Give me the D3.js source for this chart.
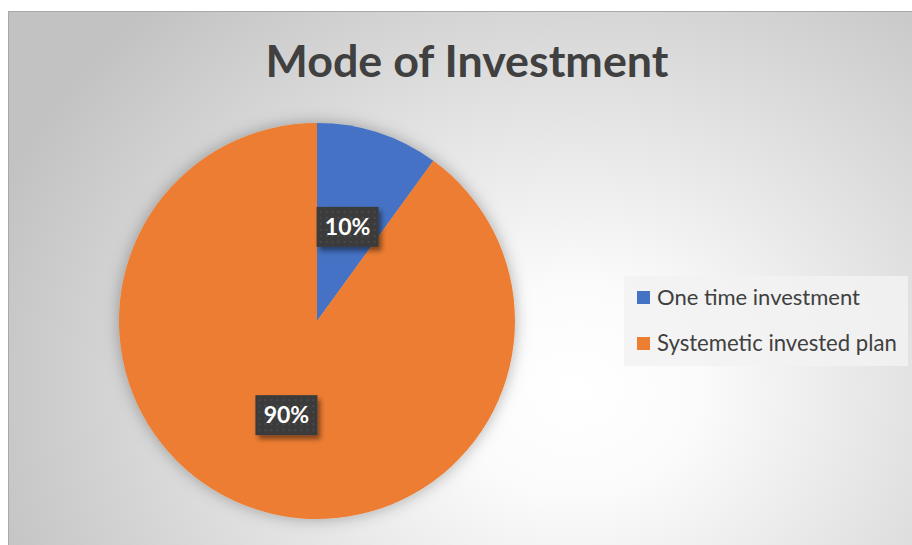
<!DOCTYPE html>
<html>
<head>
<meta charset="utf-8">
<script src="https://cdn.jsdelivr.net/npm/d3@7"></script>
<style>
  html, body { margin: 0; padding: 0; background: #ffffff; }
  svg { display: block; }
</style>
</head>
<body>
<svg id="chart" width="912" height="545"></svg>
<script>
// Chart data
const title = "Mode of Investment";
const categories = ["One time investment", "Systemetic invested plan"];
const shares = [10, 90];
const labels = ["10%", "90%"];
const colors = ["#4472C4", "#ED7D31"];

const W = 912, H = 545;
const svg = d3.select("#chart");
const defs = svg.append("defs");

// Chart-area background: soft radial white-to-grey fill
const bg = defs.append("radialGradient")
  .attr("id", "bgGrad")
  .attr("gradientUnits", "userSpaceOnUse")
  .attr("cx", 575).attr("cy", 390).attr("r", 620)
  .attr("gradientTransform", "translate(575,390) scale(1,0.85) translate(-575,-390)");
bg.append("stop").attr("offset", 0).attr("stop-color", "#ffffff");
bg.append("stop").attr("offset", 0.2).attr("stop-color", "#fbfbfb");
bg.append("stop").attr("offset", 1).attr("stop-color", "#c2c2c2");

// Soft glow shadow around the pie
const glow = defs.append("filter").attr("id", "pieShadow")
  .attr("x", "-20%").attr("y", "-20%").attr("width", "140%").attr("height", "140%");
glow.append("feDropShadow").attr("dx", 0).attr("dy", 0)
  .attr("stdDeviation", 8).attr("flood-color", "#000").attr("flood-opacity", 0.3);

// Drop shadow for the data-label boxes
const lblShadow = defs.append("filter").attr("id", "lblShadow")
  .attr("x", "-30%").attr("y", "-30%").attr("width", "160%").attr("height", "170%");
lblShadow.append("feDropShadow").attr("dx", 3).attr("dy", 4)
  .attr("stdDeviation", 2.5).attr("flood-color", "#000").attr("flood-opacity", 0.45);

// Dotted texture for the label boxes
const pat = defs.append("pattern").attr("id", "dots")
  .attr("patternUnits", "userSpaceOnUse").attr("width", 6).attr("height", 6);
pat.append("rect").attr("width", 6).attr("height", 6).attr("fill", "#3b3b3b");
pat.append("rect").attr("x", 2).attr("y", 2).attr("width", 2).attr("height", 2).attr("fill", "#4a4a4a");

// Frame of the chart area
const frame = { x: 8.5, y: 11.5 };
svg.append("rect")
  .attr("x", frame.x).attr("y", frame.y)
  .attr("width", W + 10).attr("height", H + 10)
  .attr("fill", "url(#bgGrad)")
  .attr("stroke", "#a9a9a9").attr("stroke-width", 1);

// Title
const fontFamily = "Lato, 'Open Sans', 'DejaVu Sans', sans-serif";
const titleText = svg.append("text")
  .attr("x", 467).attr("y", 77)
  .attr("text-anchor", "middle")
  .attr("font-family", fontFamily)
  .attr("font-weight", 700)
  .attr("font-size", 44)
  .attr("fill", "#404040")
  .text(title);
fitWidth(titleText, 403, 44);

// Pie
const cx = 317, cy = 321, radius = 198;
const pie = d3.pie().sort(null).value(d => d)(shares);
const arc = d3.arc().innerRadius(0).outerRadius(radius);
const labelArc = d3.arc().innerRadius(0).outerRadius(radius); // centroid sits at r/2

const g = svg.append("g").attr("transform", `translate(${cx},${cy})`);
g.append("g").attr("filter", "url(#pieShadow)")
  .selectAll("path")
  .data(pie)
  .join("path")
  .attr("d", arc)
  .attr("fill", (d, i) => colors[i]);

// Data labels
const boxW = 62, boxH = 40;
const lbl = g.selectAll("g.lbl")
  .data(pie)
  .join("g")
  .attr("class", "lbl")
  .attr("transform", d => {
    const [x, y] = labelArc.centroid(d);
    return `translate(${x},${y})`;
  });
lbl.append("rect")
  .attr("x", -boxW / 2).attr("y", -boxH / 2)
  .attr("width", boxW).attr("height", boxH)
  .attr("fill", "url(#dots)")
  .attr("filter", "url(#lblShadow)");
lbl.append("text")
  .attr("text-anchor", "middle")
  .attr("dy", "0.36em")
  .attr("font-family", fontFamily)
  .attr("font-weight", 700)
  .attr("font-size", 23)
  .attr("fill", "#ffffff")
  .text((d, i) => labels[i]);

// Legend
const legend = svg.append("g").attr("transform", "translate(624,276)");
legend.append("rect")
  .attr("width", 284).attr("height", 90)
  .attr("fill", "#f2f2f2").attr("fill-opacity", 0.85);
const item = legend.selectAll("g.item")
  .data(categories)
  .join("g")
  .attr("class", "item")
  .attr("transform", (d, i) => `translate(13,${15 + i * 46})`);
item.append("rect")
  .attr("width", 13).attr("height", 13)
  .attr("fill", (d, i) => colors[i]);
const legendWidths = [203, 240];
item.append("text")
  .attr("x", 20).attr("y", 13.5)
  .attr("font-family", fontFamily)
  .attr("font-size", 19)
  .attr("fill", "#404040")
  .text(d => d)
  .each(function (d, i) { fitWidth(d3.select(this), legendWidths[i], 19); });

// Scale a text's font size so it spans the requested width
function fitWidth(sel, target, base) {
  const w = sel.node().getComputedTextLength();
  if (w > 0) sel.attr("font-size", (base * target / w).toFixed(2));
}
</script>
</body>
</html>
